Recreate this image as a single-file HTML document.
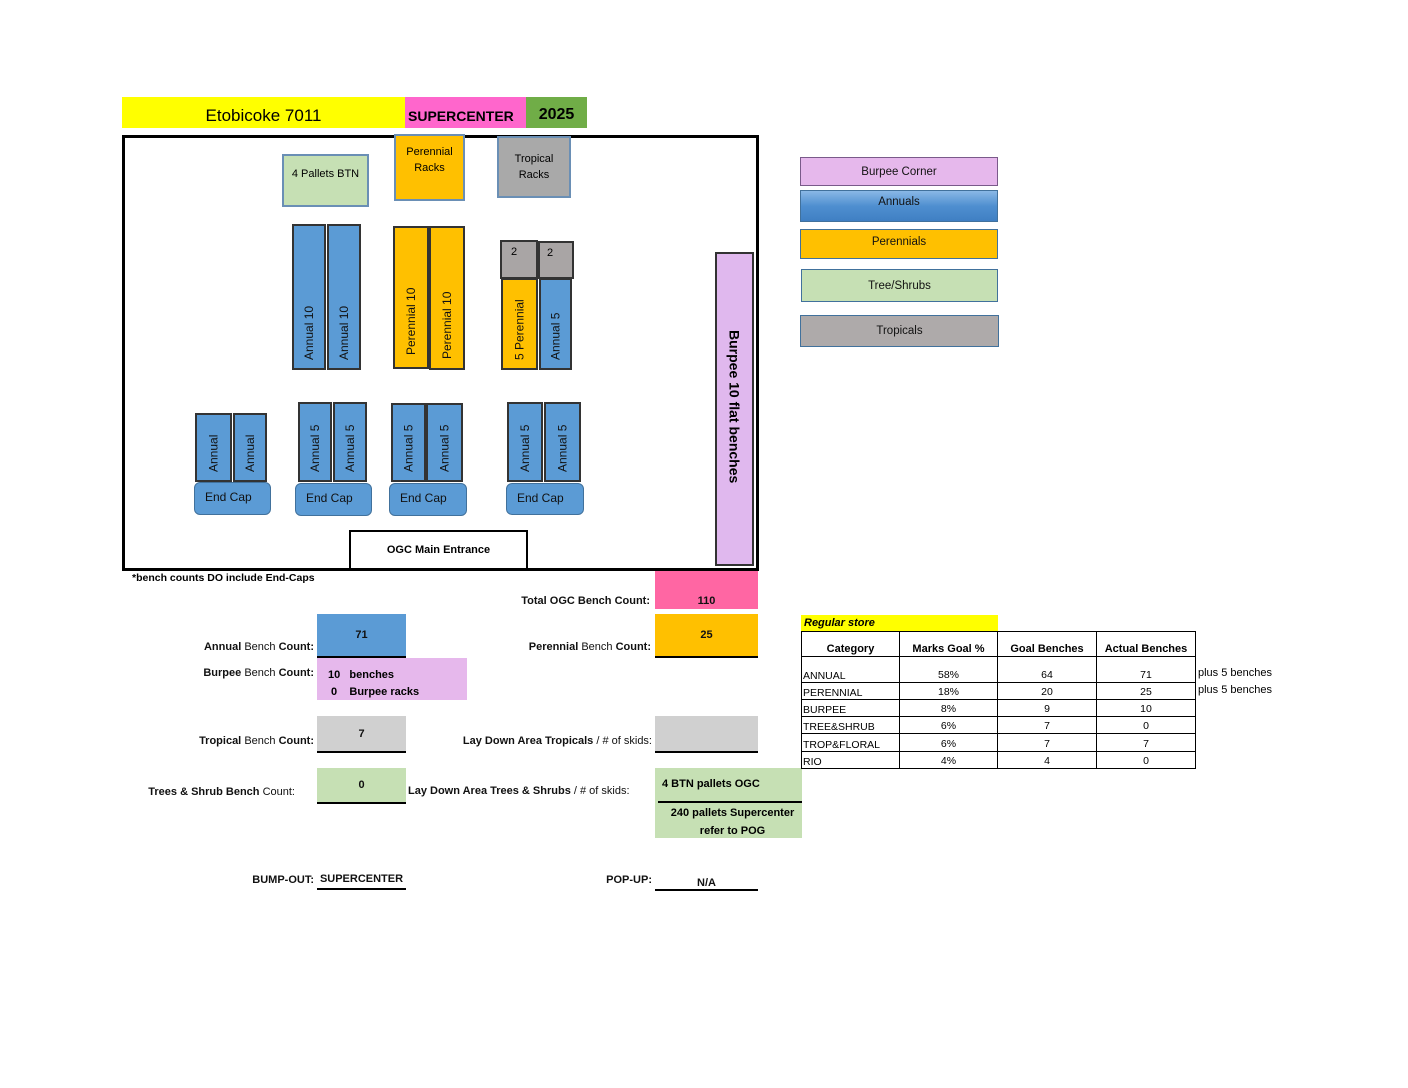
<!DOCTYPE html>
<html><head><meta charset="utf-8"><style>
body{margin:0;width:1408px;height:1088px;background:#fff;position:relative;font-family:"Liberation Sans",sans-serif;overflow:hidden}
div{position:absolute;box-sizing:border-box}
.c{display:flex;align-items:center;justify-content:center;text-align:center}
.b{background:#5b9bd5;border:2px solid #333}
.o{background:#ffc000;border:2px solid #333}
.g{background:#a9a5a5;border:2px solid #333}
.v{writing-mode:vertical-rl;transform:rotate(180deg);display:flex;align-items:center;justify-content:flex-start;font-size:12px;color:#111}
.ec{background:#5b9bd5;border:1.5px solid #41719c;border-radius:6px;font-size:12px;color:#111;padding:7px 0 0 10px}
.lg{font-size:11.5px;color:#111;border:1.5px solid #41719c}
.lb{font-size:11px;font-weight:bold;text-align:right;color:#111}
.val{font-size:11px;font-weight:bold;color:#111;border-bottom:2px solid #000}
table{border-collapse:collapse;font-size:10.5px;table-layout:fixed}
td{border:1.5px solid #000}
</style></head><body>
<div class="c" style="left:122px;top:97px;width:283px;height:31px;background:#ffff00;font-size:17px;padding-top:6px">Etobicoke 7011</div>
<div style="left:405px;top:97px;width:121px;height:31px;background:#ff66cc;font-size:14px;font-weight:bold;padding:11px 0 0 3px">SUPERCENTER</div>
<div class="c" style="left:526px;top:97px;width:61px;height:31px;background:#70ad47;font-size:16px;font-weight:bold;padding-top:4px">2025</div>

<div style="left:122px;top:135px;width:637px;height:436px;border:3px solid #000"></div>
<div class="c" style="left:282px;top:154px;width:87px;height:53px;background:#c6e0b4;border:2px solid #6a8fb5;font-size:11px;align-items:flex-start;padding-top:12px">4 Pallets BTN</div>
<div class="c" style="left:394px;top:134px;width:71px;height:67px;background:#ffc000;border:2px solid #6a8fb5;font-size:11px;line-height:16px;align-items:flex-start;padding-top:8px">Perennial<br>Racks</div>
<div class="c" style="left:497px;top:136px;width:74px;height:62px;background:#a9a9a9;border:2px solid #6a8fb5;font-size:11px;line-height:16px">Tropical<br>Racks</div>

<div class="b v" style="left:292px;top:224px;width:34px;height:146px;padding-top:8px">Annual 10</div>
<div class="b v" style="left:327px;top:224px;width:34px;height:146px;padding-top:8px">Annual 10</div>
<div class="o v" style="left:393px;top:226px;width:36px;height:143px;padding-top:12px">Perennial 10</div>
<div class="o v" style="left:429px;top:226px;width:36px;height:144px;padding-top:9px">Perennial 10</div>
<div class="g" style="left:500px;top:240px;width:38px;height:39px;font-size:11px;padding:4px 0 0 9px">2</div>
<div class="g" style="left:538px;top:241px;width:36px;height:38px;font-size:11px;padding:4px 0 0 7px">2</div>
<div class="o v" style="left:501px;top:278px;width:37px;height:92px;padding-top:8px">5 Perennial</div>
<div class="b v" style="left:539px;top:278px;width:33px;height:92px;padding-top:8px">Annual 5</div>

<div style="left:715px;top:252px;width:39px;height:314px;background:#e0b8ee;border:2px solid #333;writing-mode:vertical-rl;display:flex;align-items:center;justify-content:flex-start;font-size:14px;font-weight:bold;padding-top:76px">Burpee 10 flat benches</div>

<div class="b v" style="left:195px;top:413px;width:37px;height:69px;padding-top:8px">Annual</div>
<div class="b v" style="left:233px;top:413px;width:34px;height:69px;padding-top:8px">Annual</div>
<div class="ec" style="left:194px;top:482px;width:77px;height:33px">End Cap</div>
<div class="b v" style="left:298px;top:402px;width:34px;height:80px;padding-top:8px">Annual 5</div>
<div class="b v" style="left:333px;top:402px;width:34px;height:80px;padding-top:8px">Annual 5</div>
<div class="ec" style="left:295px;top:483px;width:77px;height:33px">End Cap</div>
<div class="b v" style="left:391px;top:403px;width:35px;height:79px;padding-top:8px">Annual 5</div>
<div class="b v" style="left:426px;top:403px;width:37px;height:79px;padding-top:8px">Annual 5</div>
<div class="ec" style="left:389px;top:483px;width:78px;height:33px">End Cap</div>
<div class="b v" style="left:507px;top:402px;width:36px;height:80px;padding-top:8px">Annual 5</div>
<div class="b v" style="left:544px;top:402px;width:37px;height:80px;padding-top:8px">Annual 5</div>
<div class="ec" style="left:506px;top:483px;width:78px;height:32px">End Cap</div>

<div class="c" style="left:349px;top:530px;width:179px;height:40px;background:#fff;border:2px solid #000;font-size:11px;font-weight:bold">OGC Main Entrance</div>

<div class="c lg" style="left:800px;top:157px;width:198px;height:29px;background:#e6b8ec;border-color:#7a5a8a">Burpee Corner</div>
<div class="c lg" style="left:800px;top:190px;width:198px;height:32px;background:linear-gradient(#8ab8e6,#4f8fd0 50%,#3f7fc3);align-items:flex-start;padding-top:5px">Annuals</div>
<div class="c lg" style="left:800px;top:229px;width:198px;height:30px;background:#ffc000;align-items:flex-start;padding-top:6px">Perennials</div>
<div class="c lg" style="left:801px;top:269px;width:197px;height:33px;background:#c6e0b4">Tree/Shrubs</div>
<div class="c lg" style="left:800px;top:315px;width:199px;height:32px;background:#aeaaaa">Tropicals</div>

<div style="left:132px;top:572px;font-size:10.5px;font-weight:bold">*bench counts DO include End-Caps</div>
<div class="lb" style="left:450px;top:595px;width:200px">Total OGC Bench Count:</div>
<div class="c val" style="left:655px;top:571px;width:103px;height:38px;background:#ff66a3;border:none;padding-top:22px">110</div>

<div class="lb" style="left:114px;top:641px;width:200px">Annual <span style="font-weight:normal">Bench</span> Count:</div>
<div class="c val" style="left:317px;top:614px;width:89px;height:44px;background:#5b9bd5">71</div>
<div class="lb" style="left:450px;top:641px;width:201px">Perennial <span style="font-weight:normal">Bench</span> Count:</div>
<div class="c val" style="left:655px;top:614px;width:103px;height:44px;background:#ffc000">25</div>

<div class="lb" style="left:114px;top:667px;width:200px">Burpee <span style="font-weight:normal">Bench</span> Count:</div>
<div style="left:317px;top:658px;width:150px;height:42px;background:#e6b8ec;font-size:11px;font-weight:bold;padding:9px 0 0 11px;line-height:17px">10 &nbsp;&nbsp;benches<br>&nbsp;0 &nbsp;&nbsp;&nbsp;Burpee racks</div>

<div class="lb" style="left:114px;top:735px;width:200px">Tropical <span style="font-weight:normal">Bench</span> Count:</div>
<div class="c val" style="left:317px;top:716px;width:89px;height:37px;background:#d0d0d0">7</div>
<div class="lb" style="left:400px;top:735px;width:252px">Lay Down Area Tropicals <span style="font-weight:normal">/ # of skids:</span></div>
<div class="val" style="left:655px;top:716px;width:103px;height:37px;background:#d0d0d0"></div>

<div class="lb" style="left:95px;top:786px;width:200px">Trees &amp; Shrub Bench <span style="font-weight:normal">Count:</span></div>
<div class="c val" style="left:317px;top:768px;width:89px;height:36px;background:#c6e0b4">0</div>
<div class="lb" style="left:408px;top:785px;text-align:left">Lay Down Area Trees &amp; Shrubs <span style="font-weight:normal">/ # of skids:</span></div>
<div style="left:655px;top:768px;width:147px;height:70px;background:#c6e0b4;font-size:11px;font-weight:bold"><div style="left:7px;top:10px">4 BTN pallets OGC</div><div style="left:3px;top:33px;width:144px;border-top:2px solid #000"></div><div style="left:0;top:36px;width:155px;text-align:center;line-height:18px">240 pallets Supercenter<br>refer to POG</div></div>

<div class="lb" style="left:214px;top:874px;width:100px">BUMP-OUT:</div>
<div class="c val" style="left:317px;top:870px;width:89px;height:20px">SUPERCENTER</div>
<div class="lb" style="left:552px;top:874px;width:100px">POP-UP:</div>
<div class="c val" style="left:655px;top:871px;width:103px;height:20px;padding-top:6px">N/A</div>

<div style="left:801px;top:615px;width:197px;height:17px;background:#ffff00;font-size:11px;font-weight:bold;font-style:italic;padding:2px 0 0 3px">Regular store</div>
<div style="left:801px;top:631px">
<table style="width:395px">
<colgroup><col style="width:98px"><col style="width:98px"><col style="width:99px"><col style="width:99px"></colgroup>
<tr style="height:25px;font-weight:bold;font-size:11px"><td style="text-align:center;vertical-align:bottom">Category</td><td style="text-align:center;vertical-align:bottom">Marks Goal %</td><td style="text-align:center;vertical-align:bottom">Goal Benches</td><td style="text-align:center;vertical-align:bottom">Actual Benches</td></tr>
<tr style="height:26px;vertical-align:bottom"><td style="padding:0 1px">ANNUAL</td><td style="text-align:center">58%</td><td style="text-align:center">64</td><td style="text-align:center">71</td></tr>
<tr style="height:17px;vertical-align:bottom"><td style="padding:0 1px">PERENNIAL</td><td style="text-align:center">18%</td><td style="text-align:center">20</td><td style="text-align:center">25</td></tr>
<tr style="height:17px;vertical-align:bottom"><td style="padding:0 1px">BURPEE</td><td style="text-align:center">8%</td><td style="text-align:center">9</td><td style="text-align:center">10</td></tr>
<tr style="height:17px;vertical-align:bottom"><td style="padding:0 1px">TREE&amp;SHRUB</td><td style="text-align:center">6%</td><td style="text-align:center">7</td><td style="text-align:center">0</td></tr>
<tr style="height:18px;vertical-align:bottom"><td style="padding:0 1px">TROP&amp;FLORAL</td><td style="text-align:center">6%</td><td style="text-align:center">7</td><td style="text-align:center">7</td></tr>
<tr style="height:17px;vertical-align:bottom"><td style="padding:0 1px">RIO</td><td style="text-align:center">4%</td><td style="text-align:center">4</td><td style="text-align:center">0</td></tr>
</table></div>
<div style="left:1198px;top:667px;font-size:11px">plus 5 benches</div>
<div style="left:1198px;top:684px;font-size:11px">plus 5 benches</div>
</body></html>
